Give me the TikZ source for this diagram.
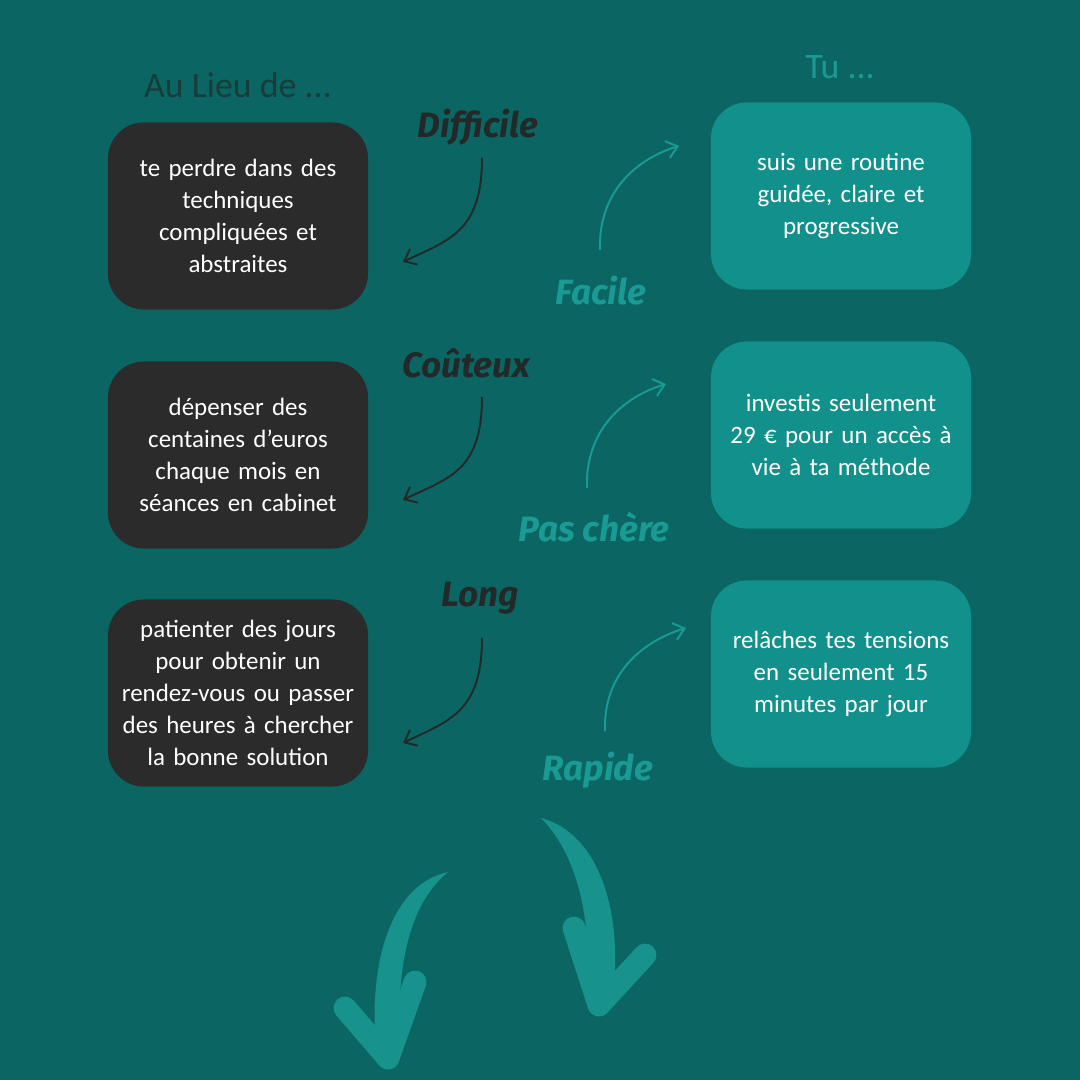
\documentclass[tikz,border=0pt]{standalone}
\usepackage{fontspec}
\setmainfont{Carlito}
\newfontfamily\handfont{Fira Sans}
\usetikzlibrary{arrows.meta}

\definecolor{bgteal}{HTML}{0B6663}
\definecolor{boxdark}{HTML}{2B2B2B}
\definecolor{boxteal}{HTML}{12908B}
\definecolor{labteal}{HTML}{1A9A94}
\definecolor{headdark}{HTML}{173C3A}
\definecolor{labdark}{HTML}{232828}

\tikzset{
  box/.style={rounded corners=0.36cm, minimum width=2.6cm, minimum height=1.87cm,
    text width=2.6cm, inner xsep=0pt, align=center, text=white,
    font=\fontsize{7.1}{9.07}\selectfont},
  darkbox/.style={box, fill=boxdark},
  tealbox/.style={box, fill=boxteal},
  heading/.style={font=\fontsize{10.2}{12}\selectfont},
  hand/.style={font=\handfont\bfseries\itshape\fontsize{10}{12}\selectfont},
  thinarrow/.style={line width=0.55pt, -{Straight Barb[length=3pt,width=5pt]}},
  bigarrow/.style={labteal!85!bgteal, line width=6.5pt, line cap=round, line join=round},
}

\begin{document}
\begin{tikzpicture}[x=0.01cm, y=-0.01cm]
  % background
  \fill [bgteal] (0,0) rectangle (1080,1080);
  \useasboundingbox (0,0) rectangle (1080,1080);

  % headings
  \node [heading, text=headdark] (aulieu) at (238,85) {Au Lieu de ...};
  \node [heading, text=labteal] (tu) at (840,67) {Tu ...};

  % left boxes
  \foreach \n/\y/\t in {1/216/{te perdre dans des\\techniques\\compliquées et\\abstraites},
                        2/455/{dépenser des\\centaines d’euros\\chaque mois en\\séances en cabinet},
                        3/693/{patienter des jours\\pour obtenir un\\rendez-vous ou passer\\des heures à chercher\\la bonne solution}} {
    \node [darkbox] (left\n) at (238,\y) {\t};
  }

  % right boxes
  \foreach \n/\y/\t in {1/196/{suis une routine\\guidée, claire et\\progressive},
                        2/435/{investis seulement\\29 € pour un accès à\\vie à ta méthode},
                        3/674/{relâches tes tensions\\en seulement 15\\minutes par jour}} {
    \node [tealbox] (right\n) at (841,\y) {\t};
  }

  % labels
  \node [hand, text=labdark] (difficile) at (478,127) {Difficile};
  \node [hand, text=labteal] (facile) at (601,291) {Facile};
  \node [hand, text=labdark] (couteux) at (466,363) {Coûteux};
  \node [hand, text=labteal] (pascher) at (594,527) {Pas chère};
  \node [hand, text=labdark] (long) at (480,598) {Long};
  \node [hand, text=labteal] (rapide) at (598,770) {Rapide};

  % small arrows
  \coordinate (d1) at (482,158);  \coordinate (d2) at (403,262);
  \coordinate (f1) at (600,250);  \coordinate (f2) at (679,146);
  \coordinate (c1) at (482,397);  \coordinate (c2) at (403,500);
  \coordinate (p1) at (587,488);  \coordinate (p2) at (666,384);
  \coordinate (l1) at (482,638);  \coordinate (l2) at (403,743);
  \coordinate (r1) at (605,731);  \coordinate (r2) at (686,628);
  \draw [thinarrow, labdark] (d1) .. controls +(0,75) and +(45,-22) .. (d2);
  \draw [thinarrow, labteal] (f1) .. controls +(-2,-60) and +(-40,12) .. (f2);
  \draw [thinarrow, labdark] (c1) .. controls +(0,75) and +(45,-22) .. (c2);
  \draw [thinarrow, labteal] (p1) .. controls +(-2,-60) and +(-40,12) .. (p2);
  \draw [thinarrow, labdark] (l1) .. controls +(0,75) and +(45,-22) .. (l2);
  \draw [thinarrow, labteal] (r1) .. controls +(-2,-60) and +(-40,12) .. (r2);

  % big arrows
  \coordinate (bl1) at (448,872); \coordinate (bl2) at (388,1058);
  \coordinate (bla) at (345,1008); \coordinate (blb) at (415,982);
  \coordinate (br1) at (541,818); \coordinate (br2) at (599,1005);
  \coordinate (bra) at (574,928); \coordinate (brb) at (645,955);
  \fill [labteal!85!bgteal] (bl1) .. controls (392,884) and (368,960) .. (376,1050)
        -- (400,1050) .. controls (396,968) and (408,905) .. cycle;
  \draw [bigarrow] (bla) -- (bl2) -- (blb);
  \fill [labteal!85!bgteal] (br1) .. controls (602,834) and (624,920) .. (612,1000)
        -- (587,1000) .. controls (592,930) and (582,860) .. cycle;
  \draw [bigarrow] (bra) -- (br2) -- (brb);
\end{tikzpicture}
\end{document}
